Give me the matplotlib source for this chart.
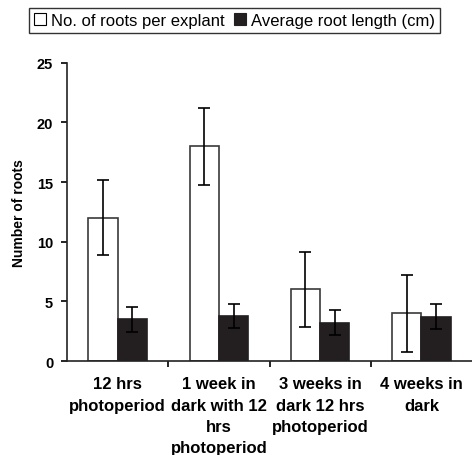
import numpy as np
import matplotlib.pyplot as plt
from matplotlib.patches import Patch

plt.rcParams['font.family'] = ['Liberation Sans', 'DejaVu Sans']

# data
categories = ['12 hrs\nphotoperiod',
              '1 week in\ndark with 12\nhrs\nphotoperiod',
              '3 weeks in\ndark 12 hrs\nphotoperiod',
              '4 weeks in\ndark']
roots_per_explant = [12.0, 18.0, 6.0, 4.0]
roots_err = [3.15, 3.2, 3.15, 3.2]
root_length = [3.5, 3.8, 3.2, 3.7]
length_err = [1.05, 1.0, 1.05, 1.05]
y_ticks = [0, 5, 10, 15, 20, 25]

fig = plt.figure(figsize=(4.72, 4.56), dpi=100)
ax = fig.add_axes([0.142, 0.206, 0.858, 0.654])

x = np.arange(len(categories))
w = 0.29
err_kw = dict(ecolor='black', elinewidth=1.2, capsize=4, capthick=1.2)

ax.bar(x - w / 2, roots_per_explant, w, yerr=roots_err, color='white',
       edgecolor='#3a3a3a', linewidth=1.2, error_kw=err_kw, zorder=2)
ax.bar(x + w / 2, root_length, w, yerr=length_err, color='#231f20',
       edgecolor='#231f20', linewidth=1.2, error_kw=err_kw, zorder=2)

ax.set_xlim(-0.5, 3.5)
ax.set_ylim(0, 25)
ax.set_yticks(y_ticks)
ax.set_yticklabels([str(t) for t in y_ticks], fontsize=10.5, fontweight='bold')
ax.tick_params(axis='y', direction='out', length=4, width=1.2, pad=6)

# group boundaries carry the ticks, labels sit at the group centres
ax.set_xticks([0.5, 1.5, 2.5])
ax.set_xticklabels([])
ax.tick_params(axis='x', which='major', direction='out', length=4, width=1.2)
ax.set_xticks(x, minor=True)
ax.set_xticklabels(categories, minor=True, fontsize=12, fontweight='bold',
                   linespacing=1.52)
ax.tick_params(axis='x', which='minor', length=0, pad=11)

ax.set_ylabel('Number of roots', fontsize=10, fontweight='bold', labelpad=8)

for side in ['top', 'right']:
    ax.spines[side].set_visible(False)
for side in ['left', 'bottom']:
    ax.spines[side].set_linewidth(1.2)
    ax.spines[side].set_color('#222222')

handles = [Patch(facecolor='white', edgecolor='black', linewidth=0.8),
           Patch(facecolor='#231f20', edgecolor='#231f20', linewidth=0.8)]
leg = fig.legend(handles, ['No. of roots per explant', 'Average root length (cm)'],
                 loc='center', bbox_to_anchor=(0.497, 0.953), ncol=2,
                 fontsize=12, frameon=True, fancybox=False, handlelength=0.7,
                 handleheight=0.7, handletextpad=0.3, columnspacing=0.6,
                 borderpad=0.3, borderaxespad=0)
leg.get_frame().set_edgecolor('black')
leg.get_frame().set_linewidth(1.0)

fig.savefig('out.png', dpi=100)
